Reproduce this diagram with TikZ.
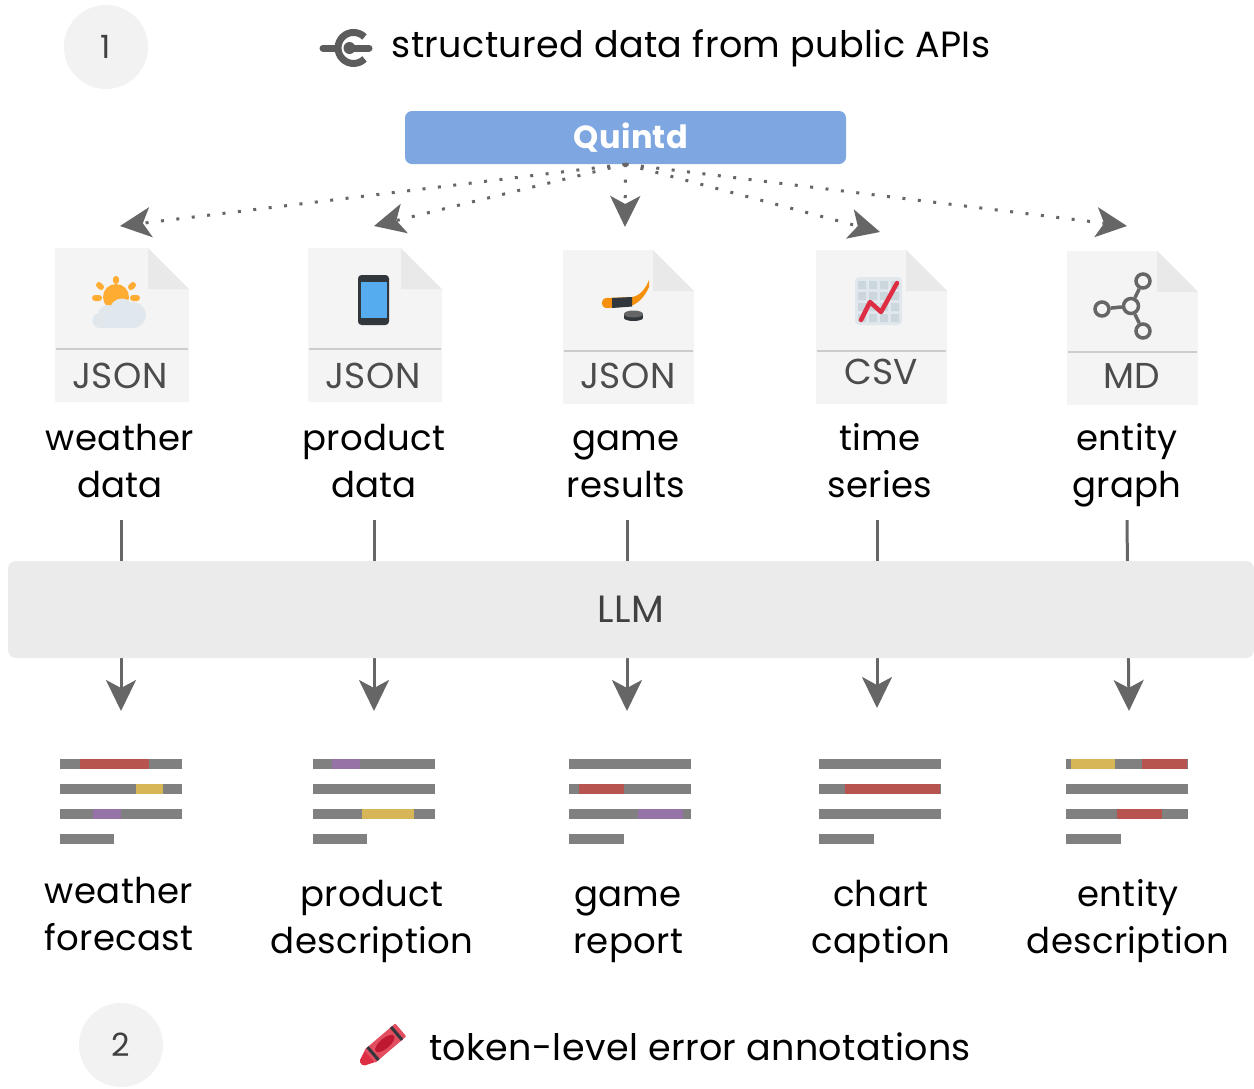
\documentclass[tikz,border=0pt]{standalone}
\usepackage{fontspec}
\setmainfont[LetterSpace=1]{Poppins}
\usepackage{xcolor}
\definecolor{cInk}{HTML}{000000}
\definecolor{cArrow}{HTML}{666666}
\definecolor{cQuintd}{HTML}{7EA6E0}
\definecolor{cBand}{HTML}{EBEBEB}
\definecolor{cRound}{HTML}{F2F2F2}
\definecolor{cDoc}{HTML}{F4F4F4}
\definecolor{cFold}{HTML}{E9E9E9}
\definecolor{cRule}{HTML}{CCCCCC}
\definecolor{cBar}{HTML}{808080}
\definecolor{cRed}{HTML}{B85450}
\definecolor{cYellow}{HTML}{D6B656}
\definecolor{cPurple}{HTML}{9673A6}
\definecolor{cDark}{HTML}{31373D}
\definecolor{cSun}{HTML}{FFAC33}
\definecolor{cCloud}{HTML}{E1E8ED}
\definecolor{cGrid}{HTML}{CCD6DD}
\definecolor{cScreen}{HTML}{55ACEE}
\definecolor{cStick}{HTML}{F4900C}
\definecolor{cCrimson}{HTML}{DD2E44}
\definecolor{cCrayon}{HTML}{BE1931}
\usetikzlibrary{arrows.meta}
\tikzset{
  node-title/.style={font=\fontsize{36.5}{36.5}\selectfont,text=cInk},
  node-name/.style={font=\fontsize{35.5}{47}\selectfont,align=center,inner sep=0pt,
    minimum height=111pt,text=cInk},
  node-type/.style={font=\fontsize{36}{36}\selectfont,text=black!70,inner sep=0pt},
  node-step/.style={circle,fill=cRound,minimum size=84pt,inner sep=0pt,
    font=\fontsize{32}{32}\selectfont,text=black!75},
  node-band/.style={fill=cBand,rounded corners=8pt,inner sep=0pt,
    minimum width=1246pt,minimum height=97pt,
    font=\fontsize{38}{38}\selectfont,text=black!75},
  node-source/.style={fill=cQuintd,rounded corners=7pt,inner sep=0pt,
    minimum width=441pt,minimum height=53pt,
    font=\fontsize{32}{32}\selectfont\bfseries,text=white},
  arrow-flow/.style={-{Stealth[length=31pt,width=30pt,inset=8pt]},line width=3pt,draw=cArrow},
  arrow-fetch/.style={-{Stealth[length=31pt,width=30pt,inset=8pt]},line width=3pt,
    draw=cArrow,dash pattern=on 3pt off 12.5pt},
  bar/.style={line width=10pt,draw=cBar},
  bar-red/.style={line width=10pt,draw=cRed},
  bar-yellow/.style={line width=10pt,draw=cYellow},
  bar-purple/.style={line width=10pt,draw=cPurple},
}
% file sheet: left, top, width
\newcommand{\docfile}[3]{%
  \fill[cDoc] (#1,#2) -- ++(#3-41,0) -- ++(41,41) -- ++(0,113) -- ++(-#3,0) -- cycle;
  \fill[cFold] (#1+#3-41,#2) -- ++(41,41) -- ++(-41,0) -- cycle;
  \draw[cRule,line width=2pt] (#1+1,#2+101) -- ++(#3-2,0);
}
% four text lines: left, x end of last line
\newcommand{\textbars}[2]{%
  \draw[bar] (#1,764) -- ++(122,0);
  \draw[bar] (#1,789) -- ++(122,0);
  \draw[bar] (#1,814) -- ++(122,0);
  \draw[bar] (#1,839) -- (#2,839);
}
\begin{document}
\begin{tikzpicture}[x=1pt,y=-1pt]
  \useasboundingbox (0,0) rectangle (1254,1088);
  % top row
  \node[node-step]  (one)    at (106,47)  {1};
  \node[node-title] (titleA) at (691,48)  {structured data from public APIs};
  \node[node-source] (quintd) at (625.5,137.5) {\raisebox{1pt}{\hspace*{11pt}Quintd}};
  % api icon
  \draw[cArrow!90!black,line width=7pt,line cap=round] (323,48) -- (336,48);
  \draw[cArrow!90!black,line width=7pt,line cap=round] (349,48) -- (369,48);
  \fill[cArrow!90!black] (349.5,48) circle (6);
  \draw[cArrow!90!black,line width=7pt] (364.5,37) arc[start angle=-45,end angle=-315,radius=15.5];
  % source files
  \docfile{55}{248}{134}
  \docfile{308}{248}{134}
  \docfile{563}{250}{131}
  \docfile{816}{250}{131}
  \docfile{1067}{251}{131}
  \node[node-type] (typeA) at (120,376)  {JSON};
  \node[node-type] (typeB) at (373,376)  {JSON};
  \node[node-type] (typeC) at (628,376)  {JSON};
  \node[node-type] (typeD) at (881,372)  {CSV};
  \node[node-type] (typeE) at (1132,376) {MD};
  % sun and cloud
  \fill[cSun] (116,297) circle (13);
  \draw[cSun,line width=6pt,line cap=round]
    (116,279) -- (116,281) (99,285) -- (101,287) (133,285) -- (131,287)
    (95,298) -- (99,298) (133,298) -- (137,298);
  \fill[cCloud] (122,311) circle (12.5);
  \fill[cCloud] (133,315) circle (13);
  \fill[cCloud] (108,315) circle (10);
  \fill[cCloud] (100,320.5) circle (7.5);
  \fill[cCloud] (100,316) rectangle (134,328);
  % phone
  \fill[cDark,rounded corners=3.5pt] (358,275) rectangle (389,325);
  \fill[cScreen] (361,282) rectangle (387,318);
  % hockey stick and puck
  \fill[cStick] (607,298) -- (632,297)
    .. controls (640,296) and (646,288) .. (649,280) -- (649,287)
    .. controls (645,296) and (638,305) .. (628,306.5) -- (607,308)
    .. controls (600,308) and (600,298) .. (607,298) -- cycle;
  \fill[cDark] (612,298) -- (632,297) -- (632,306.5) -- (612,308) -- cycle;
  \fill[cDark] (624,314) rectangle (643,318);
  \fill[cDark] (633.5,318) ellipse (9.5 and 3);
  \fill[cArrow] (633.5,314) ellipse (9.5 and 3.5);
  % chart
  \fill[cCloud,rounded corners=4pt] (855,277) rectangle (902,325);
  \fill[cGrid]
    (858,281) rectangle ++(8,8) (869,281) rectangle ++(8,8) (880,281) rectangle ++(8,8) (891,281) rectangle ++(8,8)
    (858,292) rectangle ++(8,8) (869,292) rectangle ++(8,8) (880,292) rectangle ++(8,8) (891,292) rectangle ++(8,8)
    (858,303) rectangle ++(8,8) (869,303) rectangle ++(8,8) (880,303) rectangle ++(8,8) (891,303) rectangle ++(8,8)
    (858,314) rectangle ++(8,8) (869,314) rectangle ++(8,8) (880,314) rectangle ++(8,8) (891,314) rectangle ++(8,8);
  \draw[cCrimson,line width=4.5pt,line cap=round,line join=round]
    (861,320) -- (870,302) -- (881,312) -- (897,283);
  % graph
  \node[circle,draw=cArrow,fill=cDoc,line width=3.5pt,minimum size=15pt,inner sep=0pt] (hub) at (1131,306) {};
  \node[circle,draw=cArrow,fill=cDoc,line width=3.5pt,minimum size=14pt,inner sep=0pt] (leafA) at (1143,281) {};
  \node[circle,draw=cArrow,fill=cDoc,line width=3.5pt,minimum size=14pt,inner sep=0pt] (leafB) at (1102,309) {};
  \node[circle,draw=cArrow,fill=cDoc,line width=3.5pt,minimum size=14pt,inner sep=0pt] (leafC) at (1143,331) {};
  \draw[cArrow,line width=3.5pt] (hub) -- (leafA);
  \draw[cArrow,line width=3.5pt] (hub) -- (leafB);
  \draw[cArrow,line width=3.5pt] (hub) -- (leafC);
  % names of the sources
  \node[node-name] (nameA) at (120,464.5)  {\strut weather\\data\strut};
  \node[node-name] (nameB) at (374,464.5)  {\strut product\\data\strut};
  \node[node-name] (nameC) at (626,464.5)  {\strut game\\results\strut};
  \node[node-name] (nameD) at (880,464.5)  {\strut time\\series\strut};
  \node[node-name] (nameE) at (1127,464.5) {\strut entity\\graph\strut};
  % free ends
  \coordinate (tipA) at (120,226);
  \coordinate (tipB) at (374,226);
  \coordinate (tipC) at (625,227);
  \coordinate (tipD) at (880,232);
  \coordinate (tipE) at (1127,226);
  \coordinate (outA) at (121,711);
  \coordinate (outB) at (374,711);
  \coordinate (outC) at (627,711);
  \coordinate (outD) at (877,708);
  \coordinate (outE) at (1129,711);
  \draw[arrow-fetch] (quintd.south) -- (tipA);
  \draw[arrow-fetch] (quintd.south) -- (tipB);
  \draw[arrow-fetch] (quintd.south) -- (tipC);
  \draw[arrow-fetch] (quintd.south) -- (tipD);
  \draw[arrow-fetch] (quintd.south) -- (tipE);
  \draw[arrow-flow] ([xshift=1pt]nameA.south) -- (outA);
  \draw[arrow-flow] (nameB.south) -- (outB);
  \draw[arrow-flow] ([xshift=1pt]nameC.south) -- (outC);
  \draw[arrow-flow] ([xshift=-3pt]nameD.south) -- (outD);
  \draw[arrow-flow] (nameE.south) -- (outE);
  \node[node-band] (llm) at (631,609.5) {LLM};
  % annotated text
  \textbars{60}{114}
  \draw[bar-red] (80,764) -- (149,764);
  \draw[bar-yellow] (136,789) -- (163,789);
  \draw[bar-purple] (93,814) -- (121,814);
  \textbars{313}{367}
  \draw[bar-purple] (332,764) -- (360,764);
  \draw[bar-yellow] (362,814) -- (414,814);
  \textbars{569}{624}
  \draw[bar-red] (579,789) -- (624,789);
  \draw[bar-purple] (638,814) -- (683,814);
  \textbars{819}{874}
  \draw[bar-red] (845,789) -- (940,789);
  \textbars{1066}{1121}
  \draw[bar-yellow] (1071,764) -- (1115,764);
  \draw[bar-red] (1142,764) -- (1187,764);
  \draw[bar-red] (1117,814) -- (1162,814);
  % generated texts
  \node[node-name] (textA) at (119,918)  {\strut weather\\forecast\strut};
  \node[node-name] (textB) at (372,921)  {\strut product\\description\strut};
  \node[node-name] (textC) at (628,921)  {\strut game\\report\strut};
  \node[node-name] (textD) at (881,921)  {\strut chart\\caption\strut};
  \node[node-name] (textE) at (1128,921) {\strut entity\\description\strut};
  % bottom row
  \node[node-step]  (two)    at (121,1045) {2};
  \node[node-title] (titleB) at (700,1047) {token-level error annotations};
  % crayon
  \begin{scope}[shift={(362,1063)},rotate=40.5]
    \fill[cCrimson,rounded corners=1.5pt] (-1,-3) -- (11,-8) -- (11,8) -- (-1,3) -- cycle;
    \fill[cCrimson!85!white,rounded corners=1pt] (10,-8.5) rectangle (51,8.5);
    \fill[cDark] (13,-8.5) rectangle (16,8.5) (44,-8.5) rectangle (47,8.5);
    \fill[cCrayon] (30,0) ellipse (12 and 5);
  \end{scope}
\end{tikzpicture}
\end{document}
